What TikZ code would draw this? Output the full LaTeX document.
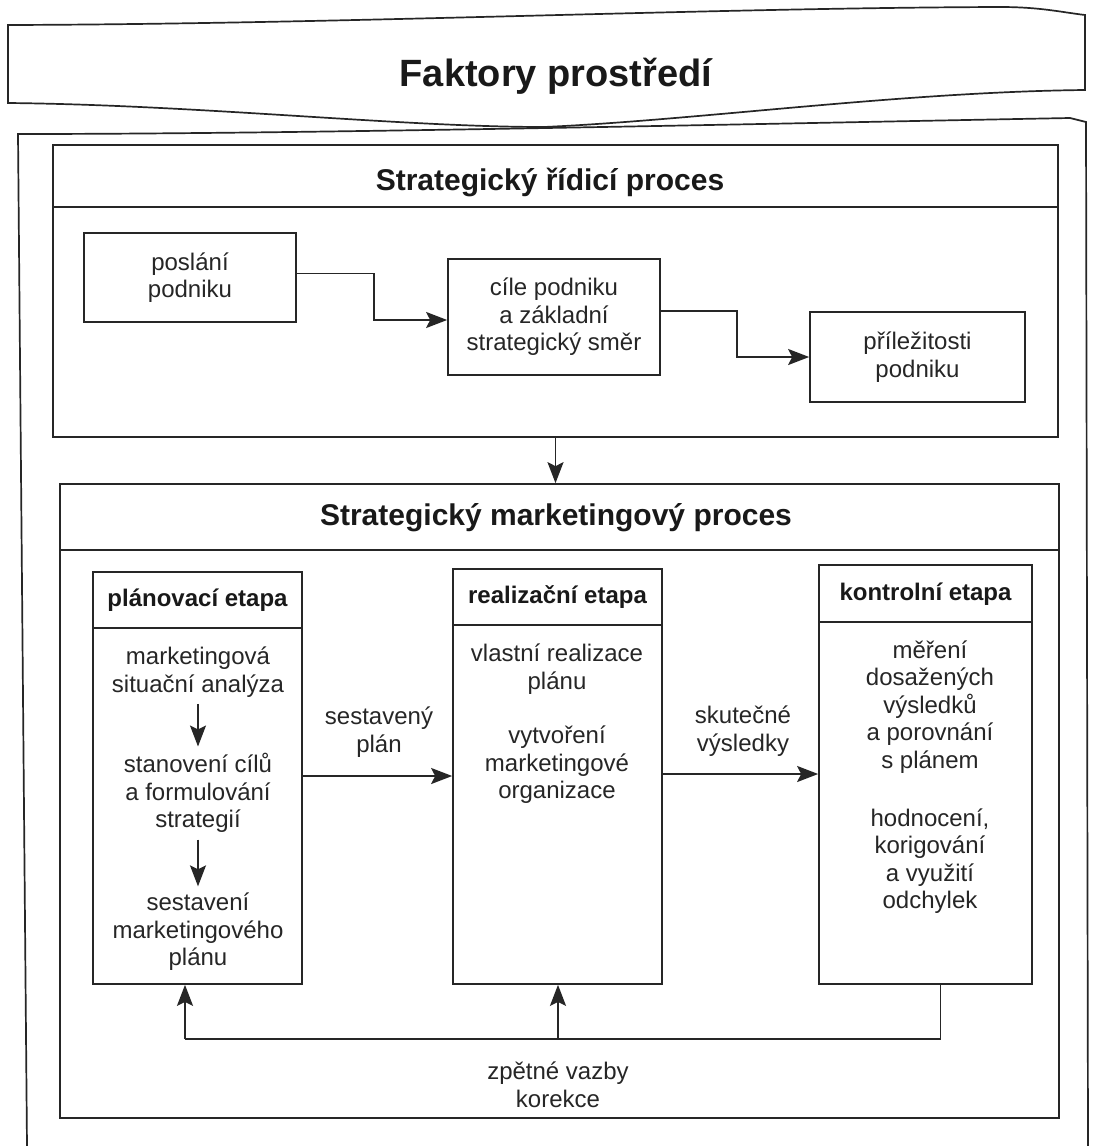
\documentclass[tikz,border=0pt]{standalone}
\usepackage{fontspec}
\setmainfont{Liberation Sans}
\usetikzlibrary{arrows.meta,calc}
\begin{document}
\begin{tikzpicture}[x=1pt,y=-1pt,
  line width=1.7pt, draw=black!85,
  box/.style={draw, rectangle, inner sep=0pt},
  txt/.style={align=center, inner sep=6pt, font=\fontsize{24}{27.5}\selectfont, text=black!85},
  hdr/.style={font=\bfseries\fontsize{24}{28}\selectfont, text=black!90},
  ttl/.style={font=\bfseries\fontsize{30}{36}\selectfont, text=black!90},
  arr/.style={-{Stealth[length=21pt,width=16pt,inset=4pt]}},
]
\useasboundingbox (0,0) rectangle (1094,1146);
\fill[white] (0,0) rectangle (1094,1146);

% banner
\draw (8,25) .. controls (350,24) and (700,8) .. (1000,7)
  .. controls (1040,7) and (1060,12) .. (1085,15) -- (1085,90)
  .. controls (900,92) and (700,120) .. (544,127)
  .. controls (400,127) and (200,105) .. (8,103) -- cycle;
\node[font=\bfseries\fontsize{38}{44}\selectfont, text=black!90, anchor=base] (fak) at (556,86) {Faktory prostředí};

% outer frame
\draw (27,1146) -- (18,134) .. controls (300,134) and (700,125) .. (1070,118) -- (1086,122) -- (1088,1146);

% strategic management process
\node[box, minimum width=1005pt, minimum height=292pt] (sr) at (555.5,291) {};
\draw ($(sr.north west)+(0,63)$) -- ($(sr.north east)+(0,63)$);
\node[ttl, anchor=base] (srt) at (550,190) {Strategický řídicí proces};

\node[box, txt, minimum width=212pt, minimum height=89pt] (posl) at (190,277.5) {poslání\\podniku};
\node[box, txt, minimum width=212pt, minimum height=116pt] (cile) at (554,317) {cíle podniku\\a základní\\strategický směr};
\node[box, txt, minimum width=215pt, minimum height=90pt] (pril) at (917.5,357) {příležitosti\\podniku};

\draw[arr] ([yshift=4pt]posl.east) -- ++(77,0) |- ([yshift=-3pt]cile.west);
\draw[arr] ([yshift=6pt]cile.east) -- ++(76,0) |- (pril.west);

% strategic marketing process
\node[box, minimum width=999pt, minimum height=634pt] (mp) at (559.5,801) {};
\draw ($(mp.north west)+(0,67)$) -- ($(mp.north east)+(0,67)$);
\node[ttl, anchor=base] (mpt) at (556,525) {Strategický marketingový proces};

\draw[arr] (sr.south) -- (sr.south |- mp.north);

% stages
\node[box, minimum width=209pt, minimum height=412pt] (plan) at (197.5,778) {};
\draw ($(plan.north west)+(0,57)$) -- ($(plan.north east)+(0,57)$);
\node[hdr] (planh) at (197.5,600.5) {plánovací etapa};

\node[box, minimum width=209pt, minimum height=415pt] (real) at (557.5,776.5) {};
\draw ($(real.north west)+(0,57)$) -- ($(real.north east)+(0,57)$);
\node[hdr] (realh) at (557.5,597.5) {realizační etapa};

\node[box, minimum width=213pt, minimum height=419pt] (kont) at (925.5,774.5) {};
\draw ($(kont.north west)+(0,58)$) -- ($(kont.north east)+(0,58)$);
\node[hdr] (konth) at (925.5,594) {kontrolní etapa};

% planning texts
\node[txt] (pa) at (198,672) {marketingová\\situační analýza};
\node[txt] (pb) at (198,793) {stanovení cílů\\a formulování\\strategií};
\node[txt] (pc) at (198,932) {sestavení\\marketingového\\plánu};
\draw[arr] (pa.south) -- (pb.north);
\draw[arr] (pb.south) -- (pc.north);

% realization texts
\node[txt] (ra) at (557,669) {vlastní realizace\\plánu};
\node[txt] (rb) at (557,765) {vytvoření\\marketingové\\organizace};

% control texts
\node[txt] (ka) at (930,707) {měření\\dosažených\\výsledků\\a porovnání\\s plánem};
\node[txt] (kb) at (930,861) {hodnocení,\\korigování\\a využití\\odchylek};

% stage arrows
\node[txt] (lab1) at (379,732) {sestavený\\plán};
\node[txt] (lab2) at (743,731) {skutečné\\výsledky};
\draw[arr] (plan.east |- 0,776) -- (real.west |- 0,776);
\draw[arr] (real.east |- 0,774) -- (kont.west |- 0,774);

% feedback
\coordinate (fbL) at (185,1039);
\coordinate (fbM) at (558,1039);
\draw ([xshift=15pt]kont.south) |- (fbL);
\draw[arr] (fbL) -- (fbL |- plan.south);
\draw[arr] (fbM) -- (fbM |- real.south);
\node[txt] (fbt) at (558,1085) {zpětné vazby\\korekce};
\end{tikzpicture}
\end{document}
